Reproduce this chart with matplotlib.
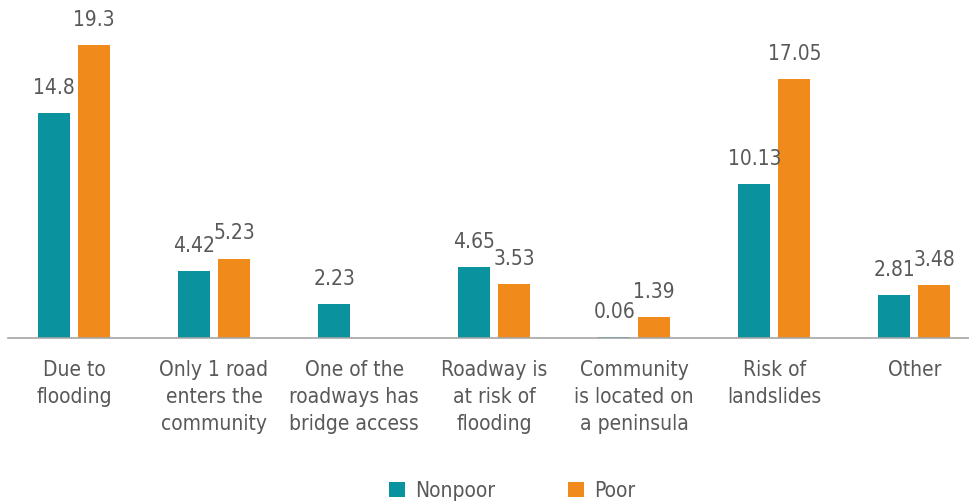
import numpy as np
import matplotlib.pyplot as plt

categories = [
    "Due to\nflooding",
    "Only 1 road\nenters the\ncommunity",
    "One of the\nroadways has\nbridge access",
    "Roadway is\nat risk of\nflooding",
    "Community\nis located on\na peninsula",
    "Risk of\nlandslides",
    "Other",
]
nonpoor = [14.8, 4.42, 2.23, 4.65, 0.06, 10.13, 2.81]
poor = [19.3, 5.23, np.nan, 3.53, 1.39, 17.05, 3.48]
series_names = ["Nonpoor", "Poor"]

TEAL = "#0A929E"
ORANGE = "#F08A1A"
TEXT = "#595959"

plt.rcParams["font.family"] = ["DejaVu Sans"]
plt.rcParams["font.stretch"] = "condensed"

fig = plt.figure(figsize=(9.69, 5.04), dpi=100)
ax = fig.add_axes([8 / 969, (504 - 338) / 504, (969 - 8) / 969, 338 / 504])

x = np.arange(len(categories))
w = 0.229
off = 0.143
b1 = ax.bar(x - off, nonpoor, w, color=TEAL, label=series_names[0])
b2 = ax.bar(x + off, poor, w, color=ORANGE, label=series_names[1])

for bars, vals in [(b1, nonpoor), (b2, poor)]:
    labels = ["" if np.isnan(v) else f"{v:g}" for v in vals]
    ax.bar_label(bars, labels=labels, padding=11, fontsize=15, color=TEXT,
                 fontstretch="condensed")

ax.set_xlim(-0.471, 6.39)
ax.set_ylim(0, 22.27)
ax.set_xticks(x)
ax.set_xticklabels(categories, fontsize=15, color=TEXT, linespacing=1.42,
                   va="top", fontstretch="condensed")
ax.tick_params(axis="x", length=0, pad=16)
ax.set_yticks([])
for s in ["top", "right", "left"]:
    ax.spines[s].set_visible(False)
ax.spines["bottom"].set_color("#A6A6A6")
ax.spines["bottom"].set_linewidth(1.2)

fig.legend(handles=[b1, b2], loc="center", bbox_to_anchor=(512 / 969, 1 - 491 / 504),
           ncol=2, frameon=False, fontsize=15, handlelength=0.75, handleheight=0.75,
           columnspacing=3.5, handletextpad=0.5, labelcolor=TEXT)

fig.savefig("out.png", dpi=100)
